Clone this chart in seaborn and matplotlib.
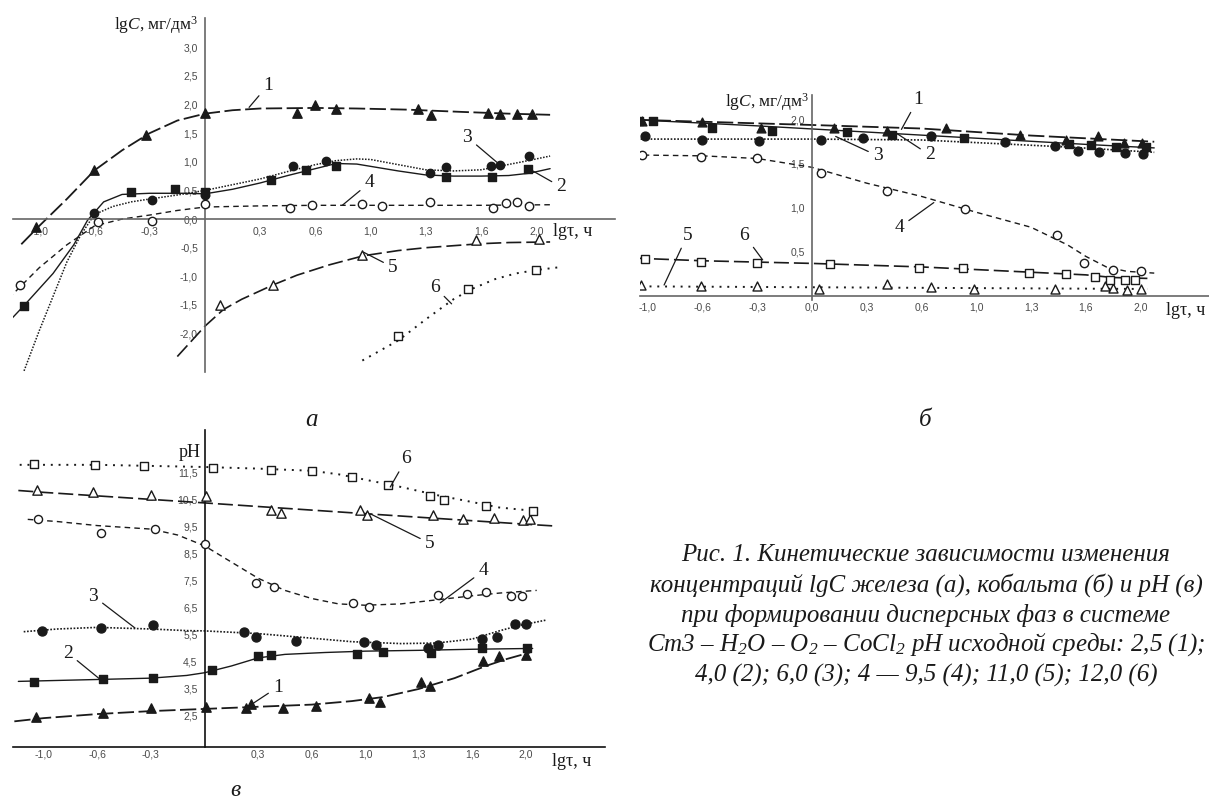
import numpy as np
import matplotlib
matplotlib.use("Agg")
import matplotlib.pyplot as plt
import seaborn as sns

# ---------------- data ----------------
TICK_VALUES = [-1.0, -0.6, -0.3, 0.0, 0.3, 0.6, 1.0, 1.3, 1.6, 2.0]
TICK_LABELS = ["-1,0", "-0,6", "-0,3", "0,0", "0,3", "0,6", "1,0", "1,3", "1,6", "2,0"]

# Panel a: lgC of iron
A1_X = [-1.02, -0.6, -0.32, 0.0, 0.5, 0.6, 0.75, 1.26, 1.33, 1.65, 1.74, 1.86, 1.97]
A1_Y = [-0.13, 0.85, 1.47, 1.85, 1.85, 1.99, 1.92, 1.93, 1.82, 1.85, 1.83, 1.84, 1.83]
A1_LX = [-1.13, -1.0, -0.8, -0.6, -0.45, -0.3, -0.15, 0.0, 0.15, 0.3, 0.6, 0.9, 1.2, 1.5, 1.8, 2.1]
A1_LY = [-0.44, -0.12, 0.35, 0.85, 1.2, 1.5, 1.72, 1.84, 1.9, 1.93, 1.94, 1.93, 1.91, 1.87, 1.84, 1.82]

A2_X = [-1.11, -0.4, -0.16, 0.0, 0.36, 0.55, 0.75, 1.41, 1.68, 1.94]
A2_Y = [-1.51, 0.47, 0.52, 0.47, 0.69, 0.85, 0.93, 0.74, 0.74, 0.87]
A2_LX = [-1.22, -1.11, -0.9, -0.75, -0.65, -0.55, -0.45, -0.3, -0.1, 0.0, 0.15, 0.3, 0.45, 0.6,
         0.75, 0.9, 1.0, 1.15, 1.3, 1.45, 1.6, 1.8, 1.95, 2.1]
A2_LY = [-1.79, -1.51, -0.95, -0.45, -0.02, 0.3, 0.43, 0.45, 0.45, 0.44, 0.52, 0.63, 0.76, 0.88,
         0.97, 0.96, 0.92, 0.84, 0.77, 0.75, 0.75, 0.76, 0.8, 0.88]

A3_X = [-0.6, -0.29, 0.0, 0.48, 0.68, 1.32, 1.41, 1.67, 1.74, 1.95]
A3_Y = [0.1, 0.34, 0.42, 0.92, 1.02, 0.8, 0.91, 0.93, 0.94, 1.1]
A3_LX = [-1.11, -1.0, -0.9, -0.8, -0.7, -0.6, -0.5, -0.4, -0.3, -0.15, 0.0, 0.15, 0.3, 0.45, 0.6,
         0.75, 0.9, 1.0, 1.15, 1.3, 1.45, 1.6, 1.75, 1.9, 2.1]
A3_LY = [-2.65, -1.95, -1.35, -0.75, -0.28, 0.08, 0.22, 0.3, 0.35, 0.42, 0.5, 0.6, 0.7, 0.83, 0.95,
         1.02, 1.05, 1.04, 0.95, 0.86, 0.84, 0.86, 0.93, 1.0, 1.1]

A4_X = [-1.14, -0.58, -0.29, 0.0, 0.46, 0.58, 0.94, 1.06, 1.32, 1.69, 1.78, 1.86, 1.95]
A4_Y = [-1.15, -0.06, -0.03, 0.27, 0.2, 0.25, 0.26, 0.23, 0.29, 0.2, 0.28, 0.29, 0.23]
A4_LX = [-1.22, -1.0, -0.8, -0.6, -0.45, -0.3, -0.15, 0.0, 0.3, 0.6, 1.0, 1.3, 1.6, 2.1]
A4_LY = [-1.38, -0.85, -0.45, -0.12, 0.0, 0.07, 0.15, 0.21, 0.23, 0.24, 0.24, 0.24, 0.24, 0.25]

A5_X = [0.08, 0.37, 0.94, 1.57, 2.02]
A5_Y = [-1.5, -1.15, -0.63, -0.37, -0.35]
A5_LX = [-0.15, 0.0, 0.1, 0.2, 0.37, 0.5, 0.7, 0.95, 1.15, 1.3, 1.6, 1.8, 2.1]
A5_LY = [-2.4, -1.87, -1.58, -1.4, -1.15, -0.98, -0.8, -0.64, -0.55, -0.5, -0.43, -0.41, -0.4]

A6_X = [1.15, 1.53, 2.0]
A6_Y = [-2.05, -1.22, -0.89]
A6_LX = [0.94, 1.15, 1.3, 1.45, 1.55, 1.7, 1.85, 2.0, 2.17]
A6_LY = [-2.47, -2.12, -1.75, -1.4, -1.22, -1.05, -0.95, -0.89, -0.84]

# Panel b: lgC of cobalt
B1_X = [-1.04, -0.6, -0.28, 0.12, 0.41, 0.78, 1.24, 1.49, 1.69, 1.88, 2.01]
B1_Y = [1.98, 1.97, 1.91, 1.91, 1.87, 1.91, 1.83, 1.77, 1.81, 1.73, 1.74]
B1_LX = [-1.1, 0.0, 0.6, 1.3, 2.1]
B1_LY = [2.0, 1.94, 1.9, 1.82, 1.75]

B2_X = [-1.06, -0.96, -0.55, -0.22, 0.19, 0.44, 0.91, 1.51, 1.64, 1.82, 2.04]
B2_Y = [1.98, 1.98, 1.91, 1.87, 1.86, 1.83, 1.79, 1.72, 1.71, 1.69, 1.69]
B2_LX = [-1.1, -0.3, 0.3, 1.0, 1.6, 2.1]
B2_LY = [2.0, 1.93, 1.86, 1.79, 1.72, 1.68]

B3_X = [-1.02, -0.6, -0.29, 0.05, 0.28, 0.67, 1.16, 1.43, 1.56, 1.7, 1.89, 2.02]
B3_Y = [1.81, 1.77, 1.76, 1.77, 1.79, 1.81, 1.75, 1.7, 1.65, 1.63, 1.62, 1.61]
B3_LX = [-1.1, 0.0, 0.6, 1.0, 1.5, 2.1]
B3_LY = [1.78, 1.78, 1.77, 1.74, 1.69, 1.63]

B4_X = [-1.04, -0.61, -0.3, 0.05, 0.41, 0.92, 1.44, 1.59, 1.8, 2.0]
B4_Y = [1.6, 1.58, 1.57, 1.4, 1.19, 0.99, 0.69, 0.37, 0.3, 0.28]
B4_LX = [-1.1, -0.6, -0.3, 0.0, 0.3, 0.6, 1.0, 1.3, 1.5, 1.6, 1.75, 1.9, 2.1]
B4_LY = [1.6, 1.59, 1.56, 1.46, 1.28, 1.13, 0.95, 0.78, 0.58, 0.45, 0.33, 0.28, 0.26]

B5_X = [-1.05, -0.61, -0.3, 0.04, 0.41, 0.67, 0.98, 1.43, 1.74, 1.8, 1.9, 2.0]
B5_Y = [0.12, 0.11, 0.11, 0.08, 0.14, 0.1, 0.08, 0.08, 0.11, 0.09, 0.07, 0.08]
B5_LX = [-1.1, 2.05]
B5_LY = [0.11, 0.08]

B6_X = [-1.02, -0.61, -0.3, 0.1, 0.585, 0.9, 1.29, 1.49, 1.67, 1.78, 1.89, 1.96]
B6_Y = [0.42, 0.39, 0.38, 0.36, 0.32, 0.32, 0.265, 0.25, 0.22, 0.18, 0.18, 0.18]
B6_LX = [-1.1, -0.6, 0.0, 0.6, 1.0, 1.3, 1.6, 1.8, 2.05]
B6_LY = [0.43, 0.4, 0.37, 0.33, 0.3, 0.27, 0.24, 0.21, 0.2]

# Panel v: pH
V1_X = [-1.06, -0.57, -0.3, 0.01, 0.23, 0.26, 0.44, 0.63, 1.02, 1.08, 1.31, 1.36, 1.68, 1.8, 2.0]
V1_Y = [2.45, 2.61, 2.8, 2.83, 2.78, 2.94, 2.8, 2.86, 3.17, 3.03, 3.75, 3.6, 4.55, 4.71, 4.77]
V1_LX = [-1.22, -1.0, -0.6, -0.3, 0.0, 0.3, 0.6, 0.9, 1.1, 1.3, 1.5, 1.7, 1.85, 2.03]
V1_LY = [2.3, 2.42, 2.57, 2.68, 2.76, 2.84, 2.92, 3.05, 3.2, 3.5, 3.9, 4.35, 4.6, 4.85]

V2_X = [-1.07, -0.57, -0.29, 0.04, 0.3, 0.37, 0.94, 1.1, 1.37, 1.67, 2.01]
V2_Y = [3.76, 3.87, 3.91, 4.19, 4.71, 4.77, 4.8, 4.87, 4.83, 5.02, 5.02]
V2_LX = [-1.19, -0.6, -0.3, -0.1, 0.0, 0.15, 0.3, 0.45, 0.7, 1.0, 1.3, 1.6, 2.05]
V2_LY = [3.78, 3.85, 3.9, 4.0, 4.1, 4.35, 4.65, 4.78, 4.85, 4.9, 4.93, 4.97, 5.0]

V3_X = [-1.01, -0.58, -0.29, 0.22, 0.29, 0.51, 0.99, 1.06, 1.35, 1.41, 1.67, 1.78, 1.92, 2.0]
V3_Y = [5.66, 5.76, 5.86, 5.61, 5.43, 5.29, 5.23, 5.14, 5.02, 5.11, 5.36, 5.43, 5.92, 5.92]
V3_LX = [-1.15, -0.9, -0.6, -0.3, -0.1, 0.0, 0.3, 0.6, 0.9, 1.2, 1.4, 1.6, 1.8, 1.95, 2.15]
V3_LY = [5.62, 5.72, 5.78, 5.72, 5.66, 5.65, 5.55, 5.38, 5.25, 5.18, 5.2, 5.35, 5.65, 5.85, 6.05]

V4_X = [-1.04, -0.58, -0.28, 0.0, 0.29, 0.39, 0.91, 1.02, 1.41, 1.57, 1.7, 1.89, 1.97]
V4_Y = [9.81, 9.28, 9.43, 8.85, 7.43, 7.28, 6.69, 6.52, 6.99, 7.03, 7.08, 6.96, 6.96]
V4_LX = [-1.12, -0.9, -0.6, -0.3, -0.15, 0.0, 0.15, 0.3, 0.45, 0.6, 0.8, 1.0, 1.2, 1.4, 1.6, 1.8, 2.08]
V4_LY = [9.78, 9.7, 9.55, 9.42, 9.2, 8.8, 8.2, 7.6, 7.15, 6.85, 6.65, 6.6, 6.65, 6.8, 6.95, 7.05, 7.15]

V5_X = [-1.05, -0.63, -0.3, 0.01, 0.37, 0.43, 0.96, 1.01, 1.38, 1.55, 1.76, 1.98, 2.03]
V5_Y = [10.86, 10.78, 10.7, 10.64, 10.14, 10.02, 10.14, 9.96, 9.93, 9.81, 9.83, 9.75, 9.8]
V5_LX = [-1.19, -1.0, 0.0, 1.0, 2.0, 2.23]
V5_LY = [10.85, 10.78, 10.39, 9.99, 9.6, 9.53]

V6_X = [-1.07, -0.62, -0.34, 0.05, 0.37, 0.6, 0.9, 1.13, 1.36, 1.44, 1.7, 2.05]
V6_Y = [11.83, 11.78, 11.77, 11.69, 11.62, 11.56, 11.35, 11.04, 10.66, 10.49, 10.29, 10.1]
V6_LX = [-1.18, -0.6, 0.0, 0.3, 0.6, 0.8, 1.0, 1.2, 1.4, 1.6, 1.8, 2.05]
V6_LY = [11.8, 11.8, 11.72, 11.66, 11.58, 11.45, 11.25, 10.98, 10.68, 10.42, 10.22, 10.1]

CAPTION = [
    "Рис. 1. Кинетические зависимости изменения",
    "концентраций lgC железа (а), кобальта (б) и pH (в)",
    "при формировании дисперсных фаз в системе",
    "Ст3 – H$_2$O – O$_2$ – CoCl$_2$ pH исходной среды: 2,5 (1);",
    "4,0 (2); 6,0 (3); 4 — 9,5 (4); 11,0 (5); 12,0 (6)",
]

# ---------------- style ----------------
sns.set_theme(style="white")
plt.rcParams["font.family"] = ["Liberation Sans", "DejaVu Sans"]
plt.rcParams["mathtext.fontset"] = "custom"
plt.rcParams["mathtext.rm"] = "Liberation Serif"
plt.rcParams["mathtext.it"] = "Liberation Serif:italic"
plt.rcParams["mathtext.default"] = "regular"

W, H = 1209, 805
fig = plt.figure(figsize=(W / 100, H / 100), dpi=100)
fig.patch.set_facecolor("white")

_pos = np.arange(-3, 7, dtype=float)
_val = np.array(TICK_VALUES)


def fwd(x):
    x = np.asarray(x, dtype=float)
    p = np.interp(x, _val, _pos)
    p = np.where(x < _val[0], _pos[0] + (x - _val[0]) / 0.4, p)
    p = np.where(x > _val[-1], _pos[-1] + (x - _val[-1]) / 0.4, p)
    return p


def inv(p):
    p = np.asarray(p, dtype=float)
    x = np.interp(p, _pos, _val)
    x = np.where(p < _pos[0], _val[0] + (p - _pos[0]) * 0.4, x)
    x = np.where(p > _pos[-1], _val[-1] + (p - _pos[-1]) * 0.4, x)
    return x


def axes_px(x0, y0, x1, y1):
    ax = fig.add_axes([x0 / W, 1 - y1 / H, (x1 - x0) / W, (y1 - y0) / H])
    ax.set_facecolor("none")
    ax.set_xscale("function", functions=(fwd, inv))
    return ax


INK = "#1a1a1a"


def series(ax, lx, ly, px, py, ls, lw, marker, filled, ms):
    sns.lineplot(x=lx, y=ly, ax=ax, color=INK, linewidth=lw, linestyle=ls,
                 sort=False, estimator=None, legend=False, zorder=2)
    sns.scatterplot(x=px, y=py, ax=ax, marker=marker, s=ms,
                    color=(INK if filled else "white"), edgecolor=INK,
                    linewidth=1.0, zorder=3, legend=False)


LS1 = (0, (9, 2.5))
LS2 = "-"
LS3 = (0, (1, 1))
LS4 = (0, (4, 3))
LS5 = (0, (9, 3))
LS6 = (0, (1, 3))

TICKFONT = dict(labelsize=7.5, labelcolor="#4a4a4a", colors="#4a4a4a")


def fmt(v):
    return f"{v:.1f}".replace(".", ",")


def style_axes(ax, xlim, ylim, yticks, xbottom_at_zero, xlabels_skip_zero, spine_color):
    ax.set_xlim(*xlim)
    ax.set_ylim(*ylim)
    for s in ("top", "right"):
        ax.spines[s].set_visible(False)
    ax.spines["left"].set_position(("data", 0))
    if xbottom_at_zero:
        ax.spines["bottom"].set_position(("data", 0))
    for s in ("left", "bottom"):
        ax.spines[s].set_color(spine_color)
        ax.spines[s].set_linewidth(1.2)
    xt = [v for v in TICK_VALUES if not (xlabels_skip_zero and v == 0.0)]
    xl = [l for v, l in zip(TICK_VALUES, TICK_LABELS) if not (xlabels_skip_zero and v == 0.0)]
    ax.set_xticks(xt)
    ax.set_xticklabels(xl)
    ax.set_xticks(list(inv(_pos[:-1] + 0.5)), minor=True)
    ax.set_yticks(yticks)
    ax.set_yticklabels([fmt(v) for v in yticks])
    ax.tick_params(axis="both", which="major", length=3, width=0.8, direction="out", pad=2, **TICKFONT)
    ax.tick_params(axis="x", which="minor", length=2.5, width=0.8, direction="out", colors="#4a4a4a")
    ax.set_xlabel("")
    ax.set_ylabel("")
    ax.grid(False)


def ann(ax, text, txy, pxy):
    ax.annotate(text, xy=pxy, xytext=txy, ha="center", va="center",
                fontsize=14, family="Liberation Serif", color=INK,
                arrowprops=dict(arrowstyle="-", color=INK, lw=0.9, shrinkA=1, shrinkB=0))


SERIF = ["Liberation Serif", "DejaVu Serif"]

# ---------------- panel a ----------------
axA = axes_px(13, 18, 615, 372)
series(axA, A1_LX, A1_LY, A1_X, A1_Y, LS1, 1.3, "^", True, 45)
series(axA, A2_LX, A2_LY, A2_X, A2_Y, LS2, 1.0, "s", True, 28)
series(axA, A3_LX, A3_LY, A3_X, A3_Y, LS3, 1.1, "o", True, 36)
series(axA, A4_LX, A4_LY, A4_X, A4_Y, LS4, 1.0, "o", False, 36)
series(axA, A5_LX, A5_LY, A5_X, A5_Y, LS5, 1.2, "^", False, 45)
series(axA, A6_LX, A6_LY, A6_X, A6_Y, LS6, 1.4, "s", False, 32)
style_axes(axA, (-1.19, 2.57), (-2.67, 3.51), list(np.arange(-2.0, 3.01, 0.5)), True, True, "#666666")
ann(axA, "1", (0.343, 2.34), (0.24, 1.95))
ann(axA, "3", (1.525, 1.43), (1.72, 0.98))
ann(axA, "2", (2.18, 0.56), (1.96, 0.86))
ann(axA, "4", (0.99, 0.63), (0.795, 0.24))
ann(axA, "5", (1.12, -0.84), (0.95, -0.58))
ann(axA, "6", (1.35, -1.19), (1.44, -1.48))

# ---------------- panel b ----------------
axB = axes_px(640, 95, 1209, 300)
series(axB, B1_LX, B1_LY, B1_X, B1_Y, LS1, 1.3, "^", True, 40)
series(axB, B2_LX, B2_LY, B2_X, B2_Y, LS2, 1.0, "s", True, 30)
series(axB, B3_LX, B3_LY, B3_X, B3_Y, LS3, 1.2, "o", True, 40)
series(axB, B4_LX, B4_LY, B4_X, B4_Y, LS4, 1.0, "o", False, 36)
series(axB, B5_LX, B5_LY, B5_X, B5_Y, LS6, 1.4, "^", False, 42)
series(axB, B6_LX, B6_LY, B6_X, B6_Y, LS5, 1.2, "s", False, 32)
style_axes(axB, (-1.056, 2.5), (-0.045, 2.28), [0.5, 1.0, 1.5, 2.0], True, False, "#666666")
ann(axB, "1", (0.58, 2.23), (0.49, 1.89))
ann(axB, "2", (0.66, 1.6), (0.46, 1.85))
ann(axB, "3", (0.36, 1.59), (0.13, 1.81))
ann(axB, "4", (0.48, 0.78), (0.69, 1.06))
ann(axB, "5", (-0.71, 0.69), (-0.88, 0.125))
ann(axB, "6", (-0.37, 0.69), (-0.27, 0.41))

# ---------------- panel v ----------------
axV = axes_px(13, 430, 605, 747)
series(axV, V1_LX, V1_LY, V1_X, V1_Y, LS1, 1.3, "^", True, 45)
series(axV, V2_LX, V2_LY, V2_X, V2_Y, LS2, 1.0, "s", True, 32)
series(axV, V3_LX, V3_LY, V3_X, V3_Y, LS3, 1.2, "o", True, 42)
series(axV, V4_LX, V4_LY, V4_X, V4_Y, LS4, 1.0, "o", False, 34)
series(axV, V5_LX, V5_LY, V5_X, V5_Y, LS5, 1.2, "^", False, 45)
series(axV, V6_LX, V6_LY, V6_X, V6_Y, LS6, 1.4, "s", False, 30)
style_axes(axV, (-1.23, 2.59), (1.35, 13.09), [2.5, 3.5, 4.5, 5.5, 6.5, 7.5, 8.5, 9.5, 10.5, 11.5],
           False, True, "#111111")
axV.tick_params(axis="x", which="major", length=0)
ann(axV, "6", (1.23, 12.02), (1.14, 10.98))
ann(axV, "5", (1.36, 8.9), (1.03, 9.98))
ann(axV, "4", (1.68, 7.87), (1.42, 6.69))
ann(axV, "3", (-0.63, 6.94), (-0.39, 5.76))
ann(axV, "2", (-0.82, 4.83), (-0.58, 3.83))
ann(axV, "1", (0.41, 3.57), (0.25, 2.87))


# ---------------- texts ----------------
def ftext(x, y, s, **kw):
    fig.text(x / W, 1 - y / H, s, **kw)


ylab = "lg$\\mathit{C}$, мг/дм$^3$"
ftext(198, 25, ylab, ha="right", va="center", fontsize=12.5, family=SERIF, color=INK)
ftext(809, 102, ylab, ha="right", va="center", fontsize=12.5, family=SERIF, color=INK)
ftext(201, 452, "pH", ha="right", va="center", fontsize=13, family=SERIF, color=INK)
ftext(553, 231, "lgτ, ч", ha="left", va="center", fontsize=13, family=SERIF, color=INK)
ftext(1166, 310, "lgτ, ч", ha="left", va="center", fontsize=13, family=SERIF, color=INK)
ftext(552, 761, "lgτ, ч", ha="left", va="center", fontsize=13, family=SERIF, color=INK)
ftext(312, 426, "а", ha="center", va="baseline", fontsize=18, family=SERIF, style="italic", color=INK)
ftext(925, 426, "б", ha="center", va="baseline", fontsize=18, family=SERIF, style="italic", color=INK)
ftext(235, 796, "в", ha="center", va="baseline", fontsize=17, family=SERIF, style="italic", color=INK)

for i, line in enumerate(CAPTION):
    ftext(926, 555 + 30 * i, line, ha="center", va="center", fontsize=18,
          family=SERIF, style="italic", color=INK)

fig.savefig("out.png", dpi=100, facecolor="white")
